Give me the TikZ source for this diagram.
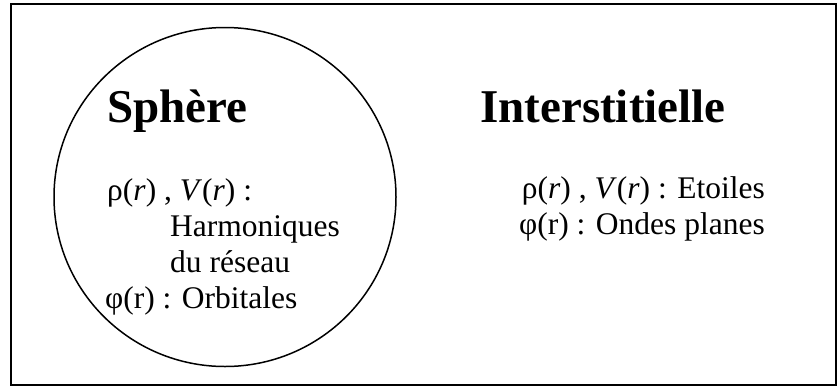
\documentclass[tikz,border=0pt]{standalone}
\usepackage{fontspec}
\setmainfont{Liberation Serif}
\begin{document}
\begin{tikzpicture}[x=1pt,y=-1pt,
  title/.style={font=\fontsize{47}{54}\selectfont\bfseries, inner sep=0pt},
  body/.style={font=\fontsize{31.5}{36}\selectfont, inner sep=0pt}]
\useasboundingbox (0,0) rectangle (840,389);
% outer frame
\draw[line width=2pt] (11,4) rectangle (836,385);
% muffin-tin sphere
\draw[line width=1.5pt] (225,197) ellipse[x radius=171, y radius=169.5];
% sphere region
\node[title, anchor=base west] (sph) at (107,122) {Sphère};
\node[body, anchor=base west] (s1) at (107,200) {ρ(\textit{r}) , \textit{V}(\textit{r}) :};
\node[body, anchor=base west] (s2) at (170,236) {Harmoniques};
\node[body, anchor=base west] (s3) at (170,272) {du réseau};
\node[body, anchor=base west] (s4) at (105,308) {φ(r) : Orbitales};
% interstitial region
\node[title, anchor=base west] (int) at (480,122) {Interstitielle};
\node[body, anchor=base east] (i1) at (765,198) {ρ(\textit{r}) , \textit{V}(\textit{r}) : Etoiles};
\node[body, anchor=base east] (i2) at (765,234) {φ(r) : Ondes planes};
\end{tikzpicture}
\end{document}
